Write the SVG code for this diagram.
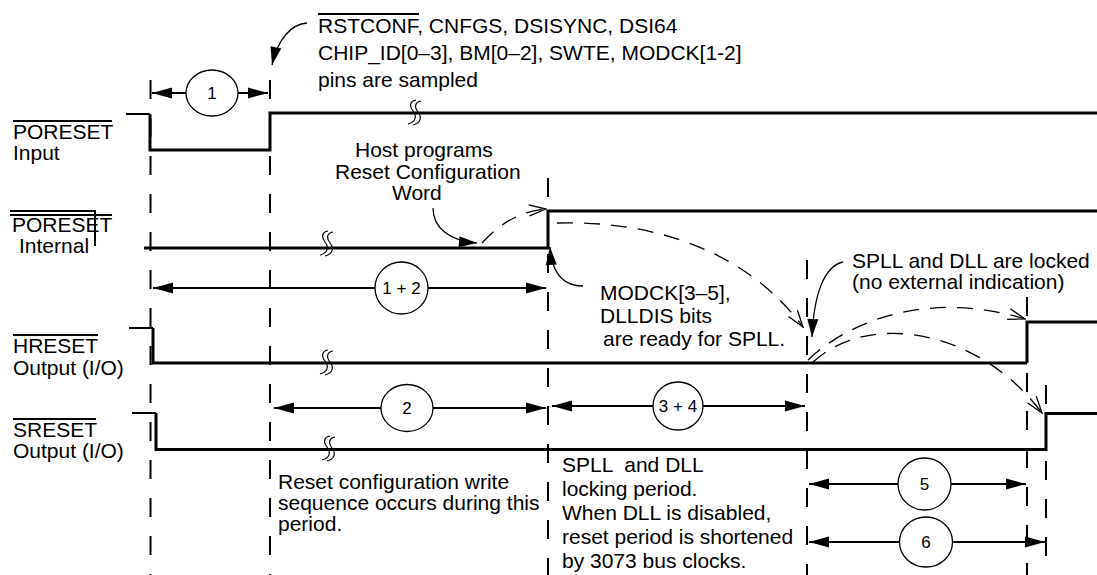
<svg xmlns="http://www.w3.org/2000/svg" xmlns:xlink="http://www.w3.org/1999/xlink" width="1097" height="575" viewBox="0 0 1097 575">
<style>
text{font-family:"Liberation Sans",Arial,Helvetica,sans-serif;font-size:21px;fill:#000}
.num{font-size:17px;text-anchor:middle}
.sig{fill:none;stroke:#000;stroke-width:3}
.stub{fill:none;stroke:#000;stroke-width:2}
.ov{fill:none;stroke:#000;stroke-width:2}
.vd{fill:none;stroke:#000;stroke-width:2;stroke-dasharray:19 19}
.dim{fill:none;stroke:#000;stroke-width:2;marker-end:url(#ah)}
.call{fill:none;stroke:#000;stroke-width:1.3;marker-end:url(#cah)}
.darc{fill:none;stroke:#000;stroke-width:1.3;stroke-dasharray:16 11;marker-end:url(#oah)}
.circ{fill:#fff;stroke:#000;stroke-width:1.3}
.sq{fill:none;stroke:#000;stroke-width:1.2}
</style>
<defs>
<marker id="ah" markerUnits="userSpaceOnUse" viewBox="-21 -6 22 12" refX="0" refY="0" markerWidth="22" markerHeight="12" orient="auto"><path d="M0,0 L-20,-5.5 L-20,5.5 Z" fill="#000"/></marker>
<marker id="cah" markerUnits="userSpaceOnUse" viewBox="-19 -6 20 12" refX="0" refY="0" markerWidth="20" markerHeight="12" orient="auto"><path d="M0,0 L-18,-5.5 L-18,5.5 Z" fill="#000"/></marker>
<marker id="oah" markerUnits="userSpaceOnUse" viewBox="-19 -7 20 14" refX="0" refY="0" markerWidth="20" markerHeight="14" orient="auto"><path d="M-17,-5.5 L0,0 L-17,5.5" fill="none" stroke="#000" stroke-width="1.3"/></marker>
<g id="squig"><path class="sq" d="M3,-13 c-6,1 -7,6 -3,11 c4,5 3,11 -5,13 M8,-12 c-6,1 -7,6 -3,11 c4,5 3,11 -5,13"/></g>
</defs>
<rect width="1097" height="575" fill="#fff"/>

<g id="guides">
<path class="vd" d="M150.5,73 V575" stroke-dashoffset="-7"/>
<path class="vd" d="M270,73 V575" stroke-dashoffset="-7"/>
<path class="vd" d="M548,160 V575" stroke-dashoffset="-94"/>
<path class="vd" d="M807,260 V575"/>
<path class="vd" d="M1027,297 V575"/>
<path class="vd" d="M1046,385 V575"/>
</g>

<g id="poreset-input">
<path class="stub" d="M126,114 H150"/>
<path class="sig" d="M150,114 V150 H270 V113 H1097"/>
<use xlink:href="#squig" x="413" y="113"/>
<path class="ov" d="M13,121 H112"/>
<text x="13" y="139">PORESET</text>
<text x="13" y="160">Input</text>
</g>

<g id="poreset-internal">
<path class="sig" d="M144,248 H548 V211 H1097" stroke-width="3.3"/>
<use xlink:href="#squig" x="325" y="244"/>
<path class="ov" d="M10,211 H95 V246 M10,215 H112"/>
<text x="12" y="232">PORESET</text>
<text x="19" y="253">Internal</text>
</g>

<g id="hreset">
<path class="stub" d="M129,328 H153"/>
<path class="sig" d="M153,328 V363 H1027" stroke-width="2.2"/>
<path class="sig" d="M1027,363 V322 H1097"/>
<use xlink:href="#squig" x="325" y="363"/>
<path class="ov" d="M13,335 H98"/>
<text x="13" y="353">HRESET</text>
<text x="13" y="375">Output (I/O)</text>
</g>

<g id="sreset">
<path class="stub" d="M132,413 H156"/>
<path class="sig" d="M156,413 V449.5 H1046 V413.5 H1097" stroke-width="2.8"/>
<use xlink:href="#squig" x="327" y="449"/>
<path class="ov" d="M13,419 H96"/>
<text x="13" y="437">SRESET</text>
<text x="13" y="458">Output (I/O)</text>
</g>

<g id="connectors">
<path class="dim" d="M186,93 H152"/>
<path class="dim" d="M238,93 H268"/>
<path class="dim" d="M375,288 H153"/>
<path class="dim" d="M428,288 H546"/>
<path class="dim" d="M381,408 H274"/>
<path class="dim" d="M433,408 H546"/>
<path class="dim" d="M653,406 H552"/>
<path class="dim" d="M703,406 H805"/>
<path class="dim" d="M898,484 H809"/>
<path class="dim" d="M951,484 H1026"/>
<path class="dim" d="M900,542 H809"/>
<path class="dim" d="M952,542 H1045"/>
<path class="call" d="M307,23 C292,24 278,38 272,65"/>
<path class="call" d="M433,208 C433,228 450,241 477,243"/>
<path class="call" d="M583,286 C565,286 552,275 550,247"/>
<path class="call" d="M843,262 C825,266 814,292 812,337"/>
<path class="darc" d="M482,243 Q510,212 546,209"/>
<path class="darc" d="M557,223 C660,220 750,255 803,327"/>
<path class="darc" d="M808,360 C850,320 930,290 1025,319"/>
<path class="darc" d="M813,362 C870,310 980,330 1042,413"/>
</g>

<g id="c1"><ellipse class="circ" cx="212" cy="93" rx="26" ry="23"/><text class="num" x="212" y="99">1</text></g>
<g id="c12"><ellipse class="circ" cx="401.5" cy="288" rx="26.5" ry="26"/><text class="num" x="401.5" y="294">1 + 2</text></g>
<g id="c2"><ellipse class="circ" cx="407" cy="408" rx="26" ry="23.5"/><text class="num" x="407" y="414">2</text></g>
<g id="c34"><ellipse class="circ" cx="678" cy="406" rx="25" ry="24"/><text class="num" x="678" y="412">3 + 4</text></g>
<g id="c5"><ellipse class="circ" cx="924.5" cy="484" rx="26.5" ry="26"/><text class="num" x="924.5" y="490">5</text></g>
<g id="c6"><ellipse class="circ" cx="926" cy="542" rx="26.5" ry="25"/><text class="num" x="926" y="548">6</text></g>

<g id="note-sampled">
<path class="ov" d="M318,14 H419"/>
<text x="318" y="33">RSTCONF, CNFGS, DSISYNC, DSI64</text>
<text x="318" y="60">CHIP_ID[0–3], BM[0–2], SWTE, MODCK[1-2]</text>
<text x="318" y="87">pins are sampled</text>
</g>

<g id="note-host">
<text x="355" y="157">Host programs</text>
<text x="335" y="179">Reset Configuration</text>
<text x="392" y="200">Word</text>
</g>

<g id="note-modck">
<text x="600" y="300">MODCK[3–5],</text>
<text x="600" y="323">DLLDIS bits</text>
<text x="603" y="346">are ready for SPLL.</text>
</g>

<g id="note-locked">
<text x="852" y="268">SPLL and DLL are locked</text>
<text x="852" y="289">(no external indication)</text>
</g>

<g id="note-write">
<text x="278" y="489">Reset configuration write</text>
<text x="278" y="510">sequence occurs during this</text>
<text x="278" y="531">period.</text>
</g>

<g id="note-locking">
<text x="562" y="472" xml:space="preserve">SPLL  and DLL</text>
<text x="562" y="496">locking period.</text>
<text x="562" y="520">When DLL is disabled,</text>
<text x="562" y="544">reset period is shortened</text>
<text x="562" y="568">by 3073 bus clocks.</text>
</g>
</svg>
